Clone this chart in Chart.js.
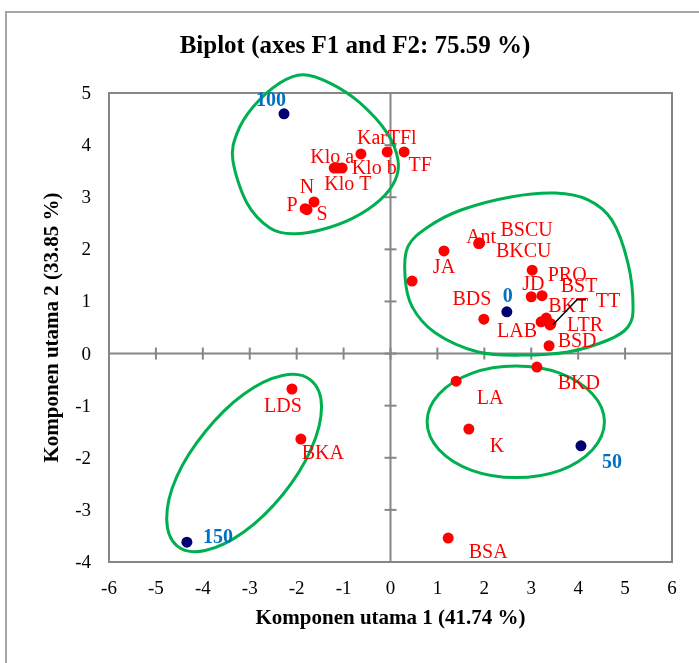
<!DOCTYPE html>
<html>
<head>
<meta charset="utf-8">
<script src="https://cdn.jsdelivr.net/npm/chart.js@4.4.1/dist/chart.umd.min.js"></script>
<style>
body { margin: 0; background: #fff; }
#wrap { width: 699px; height: 663px; position: relative; }
</style>
</head>
<body>
<div id="wrap"><canvas id="biplot"></canvas></div>
<script>
// variables (red points)
var varNames = ['Kar', 'TFl', 'TF', 'Klo a', 'Klo T', 'Klo b', 'N', 'P', 'S', 'Ant', 'BSCU', 'BKCU', '', 'JA', 'PRO', 'JD', 'BST', 'BDS', 'BKT', 'LAB', 'LTR', 'TT', 'BSD', 'BKD', 'LA', 'K', 'BSA', 'LDS', 'BKA'];
var varF1 = [-0.63, -0.07, 0.29, -1.20, -1.12, -1.03, -1.63, -1.82, -1.78, 1.89, 1.90, 1.88, 0.46, 1.14, 3.02, 3.00, 3.23, 1.99, 3.32, 3.21, 3.40, 3.42, 3.38, 3.12, 1.40, 1.67, 1.23, -2.10, -1.91];
var varF2 = [3.83, 3.87, 3.87, 3.56, 3.56, 3.56, 2.91, 2.78, 2.76, 2.12, 2.12, 2.11, 1.39, 1.97, 1.60, 1.09, 1.11, 0.66, 0.68, 0.61, 0.55, 0.57, 0.15, -0.26, -0.53, -1.45, -3.54, -0.68, -1.64];

// observations (navy points)
var obsNames = ['0', '50', '100', '150'];
var obsF1 = [2.48, 4.06, -2.27, -4.34];
var obsF2 = [0.80, -1.77, 4.60, -3.62];

var xTicks = [-6, -5, -4, -3, -2, -1, 0, 1, 2, 3, 4, 5, 6];
var yTicks = [-4, -3, -2, -1, 0, 1, 2, 3, 4, 5];

// hand drawn group outlines, in axis units
var groups = [
  [[-1.87, 5.35], [-1.29, 5.19], [-0.65, 4.81], [-0.07, 4.23], [0.16, 3.71], [0.10, 3.33], [-0.22, 2.95], [-0.80, 2.60], [-1.50, 2.37], [-2.08, 2.30], [-2.57, 2.41], [-3.06, 2.89], [-3.36, 3.71], [-3.27, 4.23], [-2.93, 4.73], [-2.36, 5.19]],
  [[0.37, 2.05], [0.80, 2.43], [1.52, 2.76], [2.59, 3.01], [3.51, 3.08], [4.21, 2.95], [4.72, 2.56], [5.06, 1.74], [5.17, 0.90], [5.06, 0.51], [4.64, 0.26], [3.78, 0.03], [2.80, -0.03], [1.87, 0.03], [0.95, 0.40], [0.46, 0.90], [0.31, 1.47]],
  [[4.56, -1.31], [4.31, -0.78], [3.62, -0.38], [2.67, -0.24], [1.73, -0.38], [1.03, -0.78], [0.78, -1.31], [1.03, -1.84], [1.73, -2.24], [2.67, -2.38], [3.62, -2.24], [4.31, -1.84]],
  [[-1.70, -0.51], [-1.47, -1.02], [-1.69, -1.83], [-2.29, -2.70], [-3.12, -3.42], [-3.95, -3.78], [-4.55, -3.69], [-4.77, -3.17], [-4.56, -2.37], [-3.95, -1.50], [-3.13, -0.78], [-2.30, -0.42]]
];

// where each label sits relative to its point (pixels, label centre)
var labelOffset = {
  'Kar': [11, -15], 'TFl': [15, -13], 'TF': [16, 14],
  'Klo a': [-2, -10], 'Klo b': [32, 1], 'Klo T': [10, 17],
  'N': [-7, -14], 'P': [-13, -3], 'S': [15, 5],
  'Ant': [2, -5], 'BSCU': [47, -12], 'BKCU': [45, 8],
  'JA': [0, 17], 'PRO': [35, 6], 'JD': [2, -12], 'BST': [37, -9],
  'BDS': [-12, -19], 'BKT': [22, -11], 'TT': [57, -22], 'LTR': [35, 1],
  'LAB': [-24, 10], 'BSD': [28, -4], 'BKD': [42, 17], 'LA': [34, 18],
  'K': [28, 18], 'BSA': [40, 15], 'LDS': [-9, 18], 'BKA': [22, 15],
  '0': [1, -15], '50': [31, 17], '100': [-13, -13], '150': [31, -4]
};

var serif = "'Liberation Serif', 'Times New Roman', serif";

function toPoints(xs, ys) {
  return xs.map(function(v, i) { return { x: v, y: ys[i] }; });
}

function strokeLine(c, x1, y1, x2, y2) {
  c.beginPath();
  c.moveTo(x1, y1);
  c.lineTo(x2, y2);
  c.stroke();
}

// closed smooth curve through the outline points
function closedCurve(c, pts) {
  var n = pts.length;
  c.beginPath();
  c.moveTo(pts[0][0], pts[0][1]);
  for (var i = 0; i < n; i++) {
    var p0 = pts[(i - 1 + n) % n], p1 = pts[i], p2 = pts[(i + 1) % n], p3 = pts[(i + 2) % n];
    c.bezierCurveTo(p1[0] + (p2[0] - p0[0]) / 6, p1[1] + (p2[1] - p0[1]) / 6,
                    p2[0] - (p3[0] - p1[0]) / 6, p2[1] - (p3[1] - p1[1]) / 6,
                    p2[0], p2[1]);
  }
  c.closePath();
  c.stroke();
}

var decor = {
  id: 'decor',
  beforeDatasetsDraw: function(chart) {
    var c = chart.ctx, a = chart.chartArea, xs = chart.scales.x, ys = chart.scales.y;
    c.save();
    // outer frame
    c.strokeStyle = '#a6a6a6';
    c.lineWidth = 2;
    c.strokeRect(6, 12, 760, 760);
    // plot box, zero lines and their ticks
    c.strokeStyle = '#868686';
    c.lineWidth = 2;
    c.strokeRect(a.left, a.top, a.right - a.left, a.bottom - a.top);
    var x0 = xs.getPixelForValue(0), y0 = ys.getPixelForValue(0);
    strokeLine(c, x0, a.top, x0, a.bottom);
    strokeLine(c, a.left, y0, a.right, y0);
    xTicks.forEach(function(v) {
      var px = xs.getPixelForValue(v);
      if (v > -6 && v < 6) strokeLine(c, px, y0 - 6, px, y0 + 6);
    });
    yTicks.forEach(function(v) {
      var py = ys.getPixelForValue(v);
      if (v > -4 && v < 5) strokeLine(c, x0 - 6, py, x0 + 6, py);
    });
    // group outlines
    c.strokeStyle = '#00b050';
    c.lineWidth = 3;
    groups.forEach(function(g) {
      closedCurve(c, g.map(function(p) { return [xs.getPixelForValue(p[0]), ys.getPixelForValue(p[1])]; }));
    });
    c.restore();
  },
  afterDatasetsDraw: function(chart) {
    var c = chart.ctx, a = chart.chartArea, xs = chart.scales.x, ys = chart.scales.y;
    c.save();
    c.textAlign = 'center';
    c.textBaseline = 'middle';

    // point labels
    c.font = '20px ' + serif;
    c.fillStyle = '#ff0000';
    varNames.forEach(function(name, i) {
      if (!name) return;
      var px = xs.getPixelForValue(varF1[i]), py = ys.getPixelForValue(varF2[i]);
      var o = labelOffset[name];
      c.fillText(name, px + o[0], py + o[1]);
      if (name === 'TT') {
        c.strokeStyle = '#000';
        c.lineWidth = 1.5;
        c.beginPath();
        c.moveTo(px + 2, py + 1);
        c.lineTo(px + 26, py - 24);
        c.lineTo(px + 35, py - 24);
        c.stroke();
      }
    });
    c.font = 'bold 20px ' + serif;
    c.fillStyle = '#0070c0';
    obsNames.forEach(function(name, i) {
      var px = xs.getPixelForValue(obsF1[i]), py = ys.getPixelForValue(obsF2[i]);
      var o = labelOffset[name];
      c.fillText(name, px + o[0], py + o[1]);
    });

    // tick labels
    c.fillStyle = '#000';
    c.font = '19px ' + serif;
    xTicks.forEach(function(v) {
      c.fillText(String(v), xs.getPixelForValue(v), a.bottom + 27);
    });
    c.textAlign = 'right';
    yTicks.forEach(function(v) {
      c.fillText(String(v), a.left - 18, ys.getPixelForValue(v) + 1);
    });

    // titles
    c.textAlign = 'center';
    c.font = 'bold 25px ' + serif;
    c.fillText('Biplot (axes F1 and F2: 75.59 %)', 355, 47);
    c.font = 'bold 21px ' + serif;
    c.fillText('Komponen utama 1 (41.74 %)', (a.left + a.right) / 2, 619);
    c.translate(53, (a.top + a.bottom) / 2);
    c.rotate(-Math.PI / 2);
    c.fillText('Komponen utama 2 (33.85 %)', 0, 0);
    c.restore();
  }
};

var ctx = document.getElementById('biplot').getContext('2d');
var chart = new Chart(ctx, {
  type: 'scatter',
  data: {
    datasets: [{
      label: 'Variabel',
      data: toPoints(varF1, varF2),
      backgroundColor: '#ff0000',
      borderWidth: 0,
      pointRadius: 5.5
    }, {
      label: 'Dosis',
      data: toPoints(obsF1, obsF2),
      backgroundColor: '#00006e',
      borderWidth: 0,
      pointRadius: 5.5
    }]
  },
  options: {
    responsive: true,
    maintainAspectRatio: false,
    animation: false,
    events: [],
    layout: { padding: { top: 93, right: 27, left: 0, bottom: 0 } },
    plugins: { legend: { display: false }, tooltip: { enabled: false } },
    scales: {
      x: {
        min: -6, max: 6,
        ticks: { display: false, stepSize: 1 },
        grid: { display: false },
        border: { display: false },
        afterFit: function(s) { s.height = 101; }
      },
      y: {
        min: -4, max: 5,
        ticks: { display: false, stepSize: 1 },
        grid: { display: false },
        border: { display: false },
        afterFit: function(s) { s.width = 109; }
      }
    }
  },
  plugins: [decor]
});
</script>
</body>
</html>
